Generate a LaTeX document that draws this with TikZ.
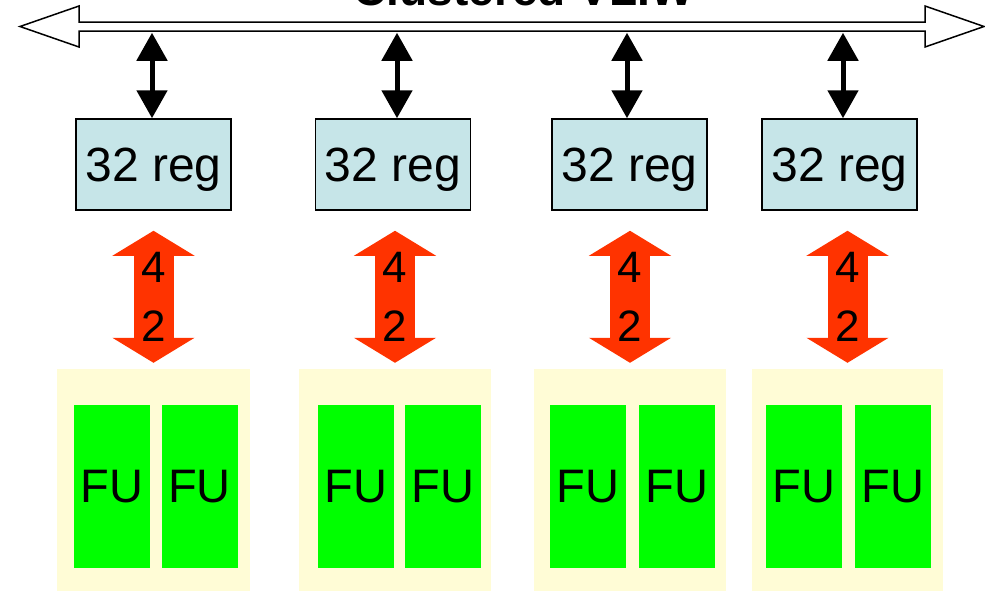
\documentclass[tikz,border=0pt]{standalone}
\usepackage{fontspec}
\setmainfont{Liberation Sans}
\usepackage{xcolor}
\usetikzlibrary{arrows.meta}

\definecolor{regblue}{RGB}{198,229,232}
\definecolor{fugreen}{RGB}{0,255,0}
\definecolor{slotyellow}{RGB}{255,252,214}
\definecolor{portred}{RGB}{255,51,0}

\begin{document}
\begin{tikzpicture}[x=1pt,y=-1pt,
  reg/.style={draw,line width=1.5pt,fill=regblue,minimum width=155pt,minimum height=91pt,
    inner sep=0pt,font=\fontsize{48}{52}\selectfont,text height=34pt,text depth=0pt},
  fu/.style={fill=fugreen,minimum width=76pt,minimum height=163pt,inner sep=0pt,
    font=\fontsize{47}{50}\selectfont},
  slot/.style={fill=slotyellow,minimum height=226pt,inner sep=0pt},
  buslink/.style={line width=5pt,
    {Triangle[width=30pt,length=28pt]}-{Triangle[width=30pt,length=28pt]}},
  portlink/.style={portred,line width=40pt,
    {Triangle[width=81pt,length=25pt]}-{Triangle[width=81pt,length=25pt]},
    shorten <=20pt,shorten >=6pt},
  ports/.style={black,align=center,inner sep=0pt,font=\fontsize{44}{59}\selectfont}]
\useasboundingbox (0,0) rectangle (985,590);
\clip (0,0) rectangle (985,590);
% the shared bus
\node[anchor=base,font=\bfseries\fontsize{46}{50}\selectfont] (title) at (523.5,5.5) {Clustered VLIW};
\draw[line width=1.5pt,fill=white] (20,26.5) -- (79,6) -- (79,22) -- (925,22) -- (925,6)
  -- (984,26.5) -- (925,47) -- (925,31) -- (79,31) -- (79,47) -- cycle;
% one cluster per column: reg x, slot left/right, two FU x, bus tap x
\foreach \i/\rx/\sl/\sr/\fa/\fb/\bx in {1/153.5/57/250/112/199.5/152,
    2/393/299/491/356/443/397, 3/629.5/534/726/588/677/627, 4/839.5/752/943/804/893/843}{
  \node[reg] (reg\i) at (\rx,164.5) {32 reg};
  \node[slot,minimum width=\sr-\sl] (slot\i) at ({(\sl+\sr)/2},482) {};
  \node[fu] (fu\i-1) at (\fa,486.5) {FU};
  \node[fu] (fu\i-2) at (\fb,486.5) {FU};
  \coordinate (tap\i) at (\bx,31.75);
  \draw[buslink,shorten <=1pt] (tap\i) -- (tap\i |- reg\i.north);
  \draw[portlink] (slot\i.north |- reg\i.south) -- node[ports,yshift=-7.5pt] (wd\i) {4\\2} (slot\i.north);
}
\end{tikzpicture}
\end{document}
